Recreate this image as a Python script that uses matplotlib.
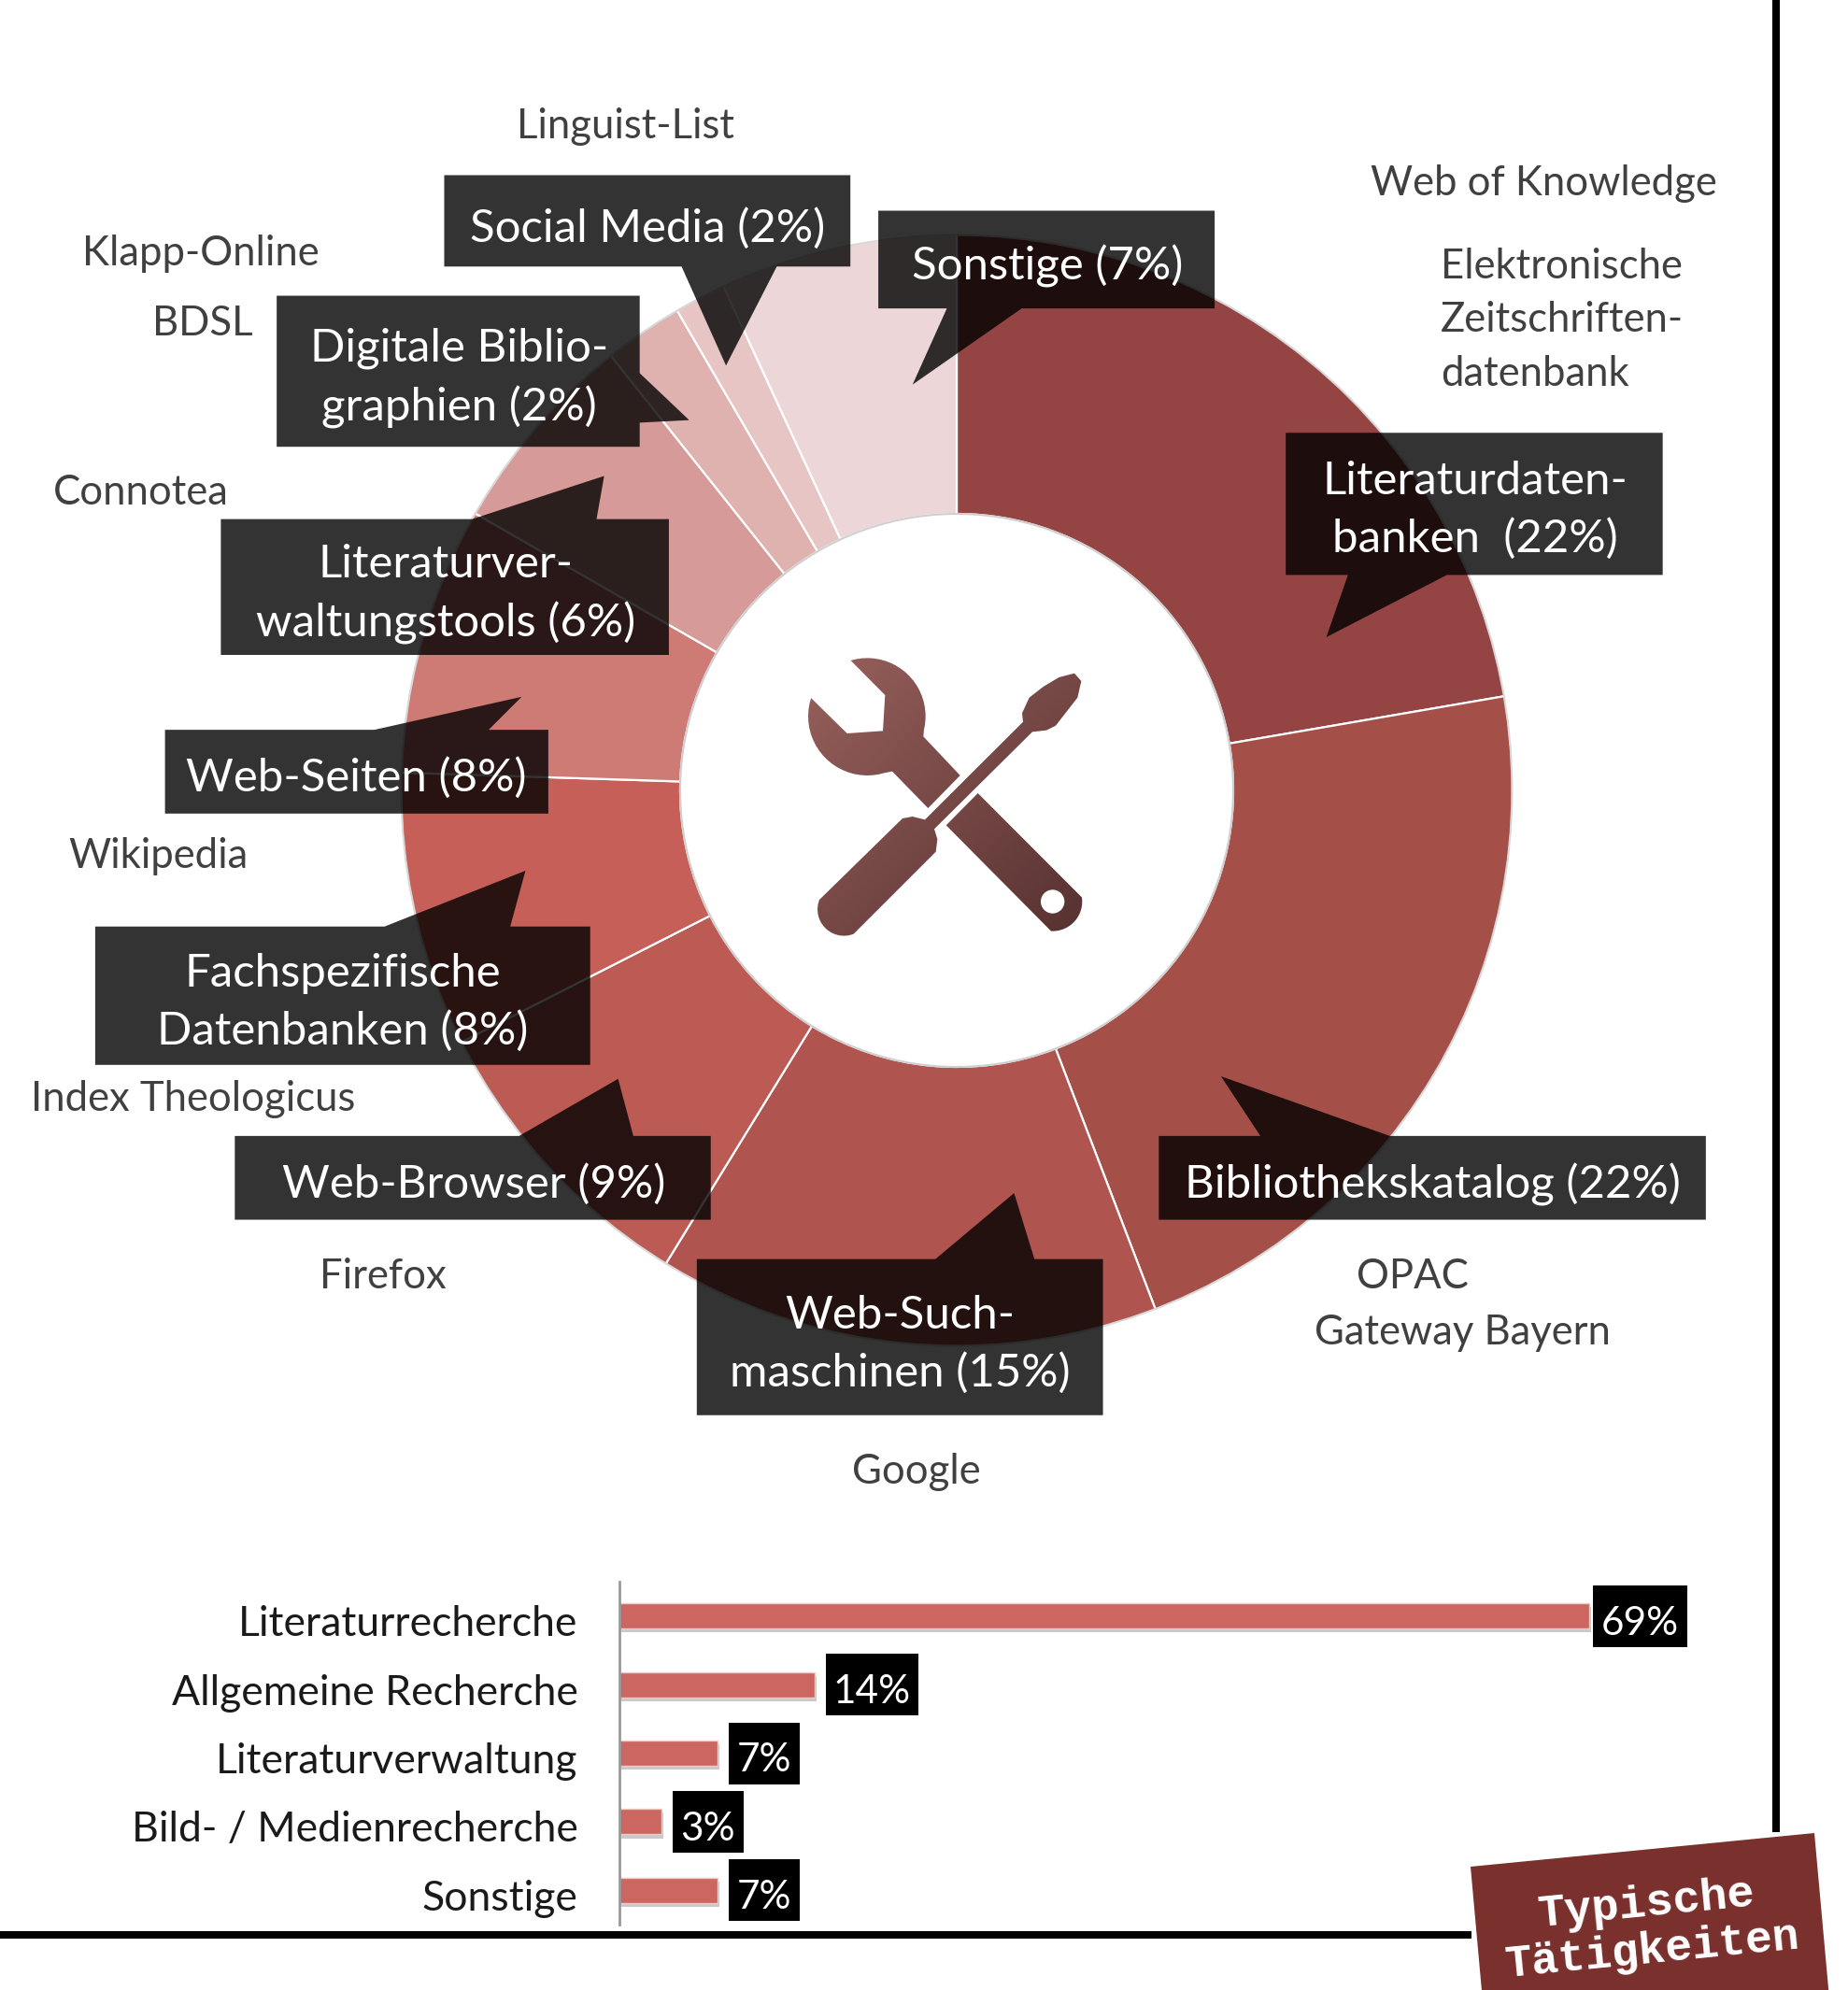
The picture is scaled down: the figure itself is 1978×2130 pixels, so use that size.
import numpy as np
import matplotlib
matplotlib.use("Agg")
import matplotlib.pyplot as plt
import matplotlib.patheffects as pe
from matplotlib.patches import Polygon, Circle, PathPatch, Rectangle
from matplotlib.path import Path
from matplotlib.transforms import ScaledTranslation

W, H = 1978, 2130
S = W / 1456  # coordinates below are read from the 1456 wide view

# donut data, clockwise from the top
tool_values = [22.3, 21.9, 14.6, 8.75, 8.0, 7.8, 6.0, 2.3, 1.5, 6.9]
tool_colors = ["#944442", "#A54F49", "#B0544F", "#BC5A54", "#C65F58",
               "#CF7B75", "#D69A98", "#DFB1AF", "#E6C5C4", "#ECD6D7"]

# bar data
task_names = ["Literaturrecherche", "Allgemeine Recherche", "Literaturverwaltung",
              "Bild- / Medienrecherche", "Sonstige"]
task_values = [69.5, 14, 7, 3, 7]
task_labels = ["69%", "14%", "7%", "3%", "7%"]
label_gaps = [4, 12, 12, 12, 12]
label_widths = [101, 99, 76, 76, 76]

# callouts: text, text centre, box (x0, y0, x1, y1), side of the tail, tail points
callouts = [
    ("Social Media (2%)", (510, 178), (350, 138, 670, 210), "b", [(612, 210), (572, 288), (537, 210)]),
    ("Sonstige (7%)", (825, 208), (692, 166, 957, 243), "b", [(805, 243), (719, 303), (746, 243)]),
    ("Digitale Biblio-\ngraphien (2%)", (362, 296), (218, 233, 504, 352), "r", [(504, 294), (543, 331), (504, 333)]),
    ("Literaturver-\nwaltungstools (6%)", (351, 466), (174, 409, 527, 516), "t", [(372, 409), (476, 375), (470, 409)]),
    ("Web-Seiten (8%)", (281, 611), (130, 575, 432, 641), "t", [(295, 575), (411, 549), (385, 575)]),
    ("Fachspezifische\nDatenbanken (8%)", (270, 788), (75, 730, 465, 839), "t", [(303, 730), (414, 686), (402, 730)]),
    ("Web-Browser (9%)", (373, 931), (185, 895, 560, 961), "t", [(409, 895), (487, 850), (499, 895)]),
    ("Web-Such-\nmaschinen (15%)", (709, 1057), (549, 992, 869, 1115), "t", [(737, 992), (799, 940), (815, 992)]),
    ("Bibliothekskatalog (22%)", (1129, 931), (913, 895, 1344, 961), "t", [(993, 895), (962, 848), (1095, 895)]),
    ("Literaturdaten-\nbanken  (22%)", (1162, 400), (1013, 341, 1310, 453), "b", [(1140, 453), (1045, 502), (1062, 453)]),
]

# grey examples next to the donut: text, left x, centre y
side_notes = [
    ("Linguist-List", 407, 98), ("Web of Knowledge", 1080, 143),
    ("Elektronische", 1135, 208), ("Zeitschriften-", 1135, 250), ("datenbank", 1135, 293),
    ("Klapp-Online", 65, 198), ("BDSL", 120, 253), ("Connotea", 42, 386),
    ("Wikipedia", 54, 673), ("Index Theologicus", 24, 864), ("Firefox", 252, 1004),
    ("OPAC", 1069, 1004), ("Gateway Bayern", 1036, 1048), ("Google", 671, 1158),
]


def arc(x, y, rad, a0, a1, n=14):
    t = np.radians(np.linspace(a0, a1, n))
    return list(zip(x + rad * np.cos(t), y + rad * np.sin(t)))


# tool icon outlines, in pixels of the 3x crop at (800, 650)
wrench_head = (arc(385, 350, 187, -106.6, 13.8, 22)
               + [(565, 415), (683, 540), (580, 645), (465, 527)]
               + arc(385, 350, 190, 73, 198, 22)
               + [(320, 405), (435, 397), (442, 282)])
wrench_handle = [(740, 597)] + arc(980, 945, 95, -8, 93) + [(638, 700)]
driver = ([(1050, 212), (1072, 237), (1060, 290), (1025, 335), (990, 380), (960, 395), (915, 400),
           (600, 712), (610, 745), (605, 785)]
          + arc(310, 970, 85, 69, 201)
          + [(498, 678), (530, 672), (570, 682), (885, 368), (882, 340), (905, 290), (950, 255), (1000, 225)])


def callout_outline(box, side, tail):
    x0, y0, x1, y1 = box
    if side == "t":
        return [(x0, y0)] + tail + [(x1, y0), (x1, y1), (x0, y1)]
    if side == "r":
        return [(x0, y0), (x1, y0)] + tail + [(x1, y1), (x0, y1)]
    return [(x0, y0), (x1, y0), (x1, y1)] + tail + [(x0, y1)]


def icon_xy(points):
    # crop pixels to view coordinates
    return [((800 + x / 3) / S, (650 + y / 3) / S) for x, y in points]


fig = plt.figure(figsize=(W / 100, H / 100), dpi=100, facecolor="white")
plt.rcParams["font.family"] = ["Lato", "DejaVu Sans"]

# donut
cx, cy, R, r = 1024, 846, 595, 296
ax_pie = fig.add_axes([(cx - R) / W, 1 - (cy + R) / H, 2 * R / W, 2 * R / H])
ax_pie.pie(tool_values, colors=tool_colors, startangle=90, counterclock=False, radius=1,
           wedgeprops=dict(width=1 - r / R, edgecolor="white", linewidth=1.6))
ax_pie.set_xlim(-1, 1)
ax_pie.set_ylim(-1, 1)
ax_pie.add_patch(Circle((0, 0), r / R, fc="none", ec="#CFCFCF", lw=1.5))
ax_pie.add_patch(Circle((0, 0), 0.999, fc="none", ec="#D8D8D8", lw=1.5, clip_on=False))

# bars
ax_bar = fig.add_axes([663 / W, 1 - 2060 / H, 1240 / W, 367 / H])
bars = ax_bar.barh(task_names, task_values, height=0.37, color="#CC6660", edgecolor="#EFC9C6", linewidth=1)
for b in bars:
    b.set_path_effects([pe.SimplePatchShadow(offset=(1.5, -3), shadow_rgbFace="#666666", alpha=0.35), pe.Normal()])
ax_bar.set_xlim(0, 1240 / 14.93)
ax_bar.set_ylim(4.5, -0.5)
ax_bar.set_xticks([])
ax_bar.tick_params(axis="y", length=0, pad=32, labelsize=32, labelcolor="#1A1A1A")
for lab in ax_bar.get_yticklabels():
    lab.set_transform(lab.get_transform() + ScaledTranslation(0, -0.05, fig.dpi_scale_trans))
for s in ["top", "right", "bottom"]:
    ax_bar.spines[s].set_visible(False)
ax_bar.spines["left"].set_color("#999999")
ax_bar.spines["left"].set_linewidth(2)
ax_bar.patch.set_alpha(0)
for i, v in enumerate(task_values):
    # label boxes are sized in pixels, anchored on the bar end
    px, py = ax_bar.transData.transform((v, i))
    x0 = px + label_gaps[i]
    fig.add_artist(Rectangle((x0, py - 33), label_widths[i], 66, fc="black", ec="none",
                             transform=None, zorder=3))
    fig.text((x0 + label_widths[i] / 2) / W, (py - 8) / H, task_labels[i], color="white", fontsize=30.5,
             ha="center", va="center", zorder=4)

# overlay in view coordinates
ax = fig.add_axes([0, 0, 1, 1], zorder=5)
ax.set_xlim(0, W / S)
ax.set_ylim(H / S, 0)
ax.axis("off")
ax.patch.set_alpha(0)

for text, (tx, ty), box, side, tail in callouts:
    ax.add_patch(Polygon(callout_outline(box, side, tail), closed=True, fc="black", ec="none", alpha=0.8))
    ax.text(tx, ty + 2, text, color="white", fontsize=35.4, ha="center", va="center", linespacing=1.47,
            multialignment="center")

for text, x, y in side_notes:
    ax.text(x, y + 2, text, color="#404040", fontsize=31.4, ha="left", va="center")

# tool icon, filled with a diagonal gradient
verts, codes = [], []
for outline in (wrench_head, wrench_handle, driver):
    pts = icon_xy(outline)
    verts += pts + [pts[0]]
    codes += [Path.MOVETO] + [Path.LINETO] * (len(pts) - 1) + [Path.CLOSEPOLY]
clip = PathPatch(Path(verts, codes), transform=ax.transData, fc="none", ec="none")
ax.add_patch(clip)
grad = np.linspace(0, 1, 200)[None, :] + np.linspace(0, 1, 200)[:, None]
cmap = matplotlib.colors.LinearSegmentedColormap.from_list("tool", ["#9A625E", "#54302F"])
img = ax.imshow(grad, cmap=cmap, extent=(630, 860, 745, 510), aspect="auto", zorder=3)
img.set_clip_path(clip)
ax.set_xlim(0, W / S)
ax.set_ylim(H / S, 0)
hx, hy = icon_xy([(980, 945)])[0]
ax.add_patch(Circle((hx, hy), 38 / 3 / S, fc="white", ec="none", zorder=4))

# frame lines and the tilted tag
ax.plot([1901 / S, 1901 / S], [0, 1961 / S], color="black", lw=5.8, solid_capstyle="butt")
ax.plot([0, 1575 / S], [2070.5 / S, 2070.5 / S], color="black", lw=5.8, solid_capstyle="butt")
tag = [(1574, 1998), (1942, 1962), (1955, 2106), (1968, 2250), (1600, 2286)]
ax.add_patch(Polygon([(x / S, y / S) for x, y in tag], closed=True, fc="#7A312E", ec="none", zorder=6))
ax.text(1762 / S, 2038 / S, "Typische", color="white", fontsize=35, family="Liberation Mono", weight="bold",
        rotation=5.6, ha="center", va="center", rotation_mode="anchor", zorder=7)
ax.text(1769 / S, 2088 / S, "Tätigkeiten", color="white", fontsize=34.5, family="Liberation Mono", weight="bold",
        rotation=5.6, ha="center", va="center", rotation_mode="anchor", zorder=7)

fig.savefig("out.png", dpi=100)
